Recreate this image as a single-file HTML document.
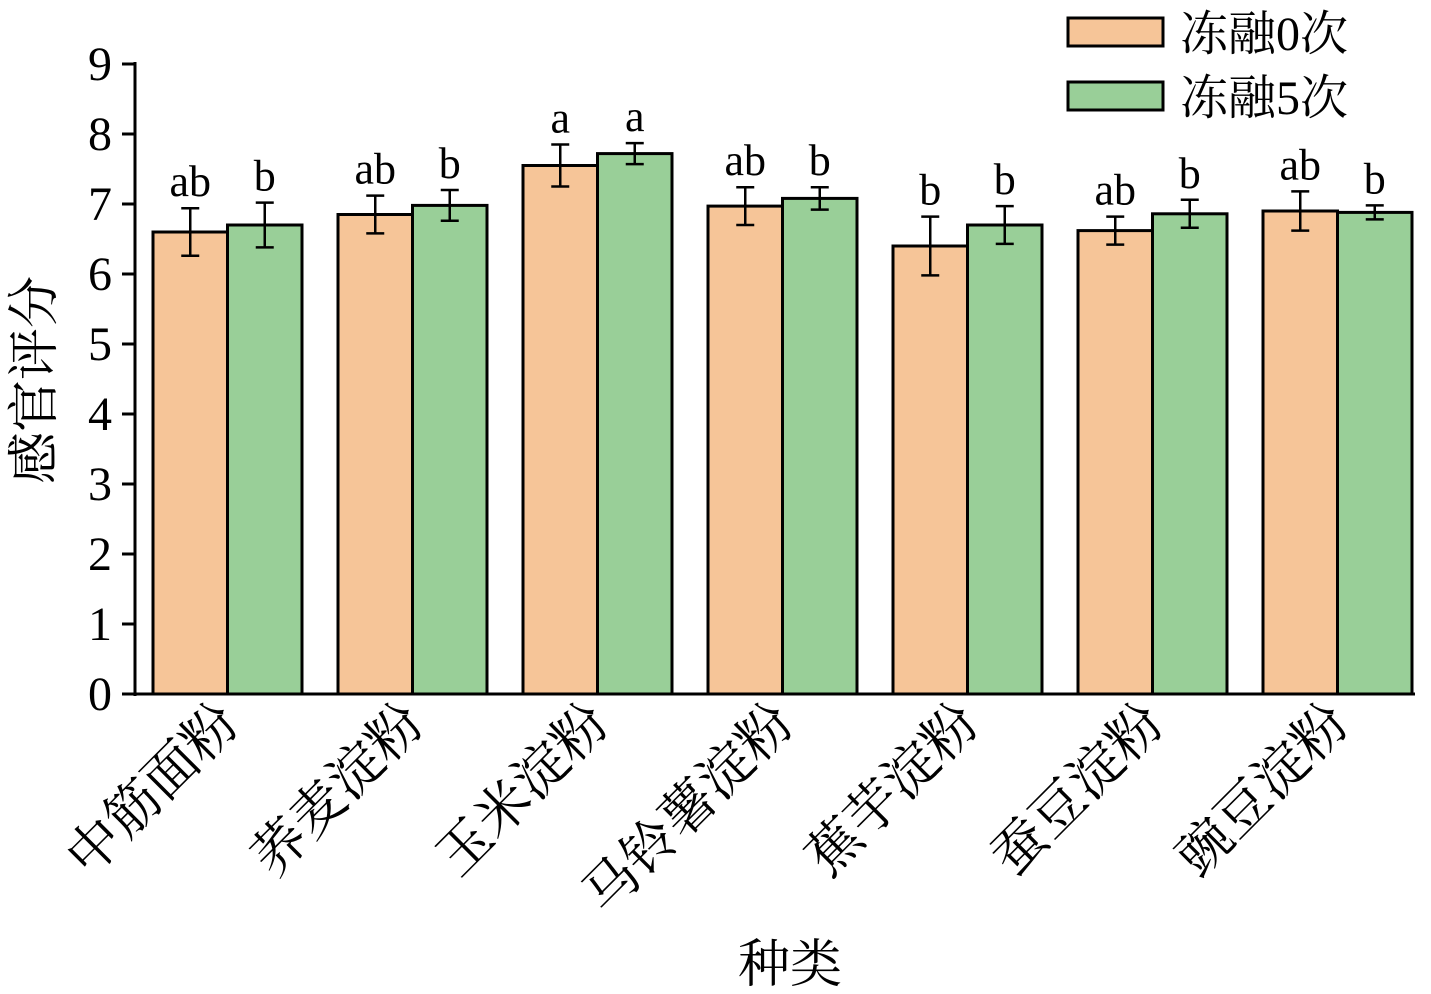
<!DOCTYPE html>
<html><head><meta charset="utf-8"><style>
body{margin:0;background:#fff}
text{font-family:"Liberation Serif","Noto Serif CJK SC",serif;fill:#000}
</style></head><body>
<svg width="1431" height="989" viewBox="0 0 1431 989" xmlns="http://www.w3.org/2000/svg">
<script>
const svg=document.querySelector('svg');
const ns='http://www.w3.org/2000/svg';
function el(t,a,txt){const e=document.createElementNS(ns,t);for(const k in a)e.setAttribute(k,a[k]);if(txt!==undefined)e.textContent=txt;svg.appendChild(e);return e;}
const Y=v=>694-70*v;
const o=[6.6,6.85,7.55,6.97,6.4,6.62,6.9], oe=[0.34,0.27,0.3,0.27,0.42,0.2,0.28];
const g=[6.7,6.98,7.72,7.08,6.7,6.86,6.88], ge=[0.32,0.22,0.15,0.16,0.27,0.2,0.1];
const lo=['ab','ab','a','ab','b','ab','ab'], lg=['b','b','a','b','b','b','b'];
const names=['中筋面粉','荞麦淀粉','玉米淀粉','马铃薯淀粉','蕉芋淀粉','蚕豆淀粉','豌豆淀粉'];
const bw=74.5;
for(let i=0;i<7;i++){
 const x0=153+185*i;
 [[o[i],oe[i],lo[i],x0,'#f6c598'],[g[i],ge[i],lg[i],x0+bw,'#99cf98']].forEach(([v,e,l,x,c])=>{
  el('rect',{x:x,y:Y(v),width:bw,height:694-Y(v),fill:c,stroke:'#000','stroke-width':3});
  const cx=x+bw/2;
  el('line',{x1:cx,x2:cx,y1:Y(v+e),y2:Y(v-e),stroke:'#000','stroke-width':2.5});
  el('line',{x1:cx-9,x2:cx+9,y1:Y(v+e),y2:Y(v+e),stroke:'#000','stroke-width':2.5});
  el('line',{x1:cx-9,x2:cx+9,y1:Y(v-e),y2:Y(v-e),stroke:'#000','stroke-width':2.5});
  el('text',{x:cx,y:Y(v+e)-12,'font-size':44,'text-anchor':'middle'},l);
 });
 const cx=x0+bw+14;
 el('text',{x:cx,y:726,'font-size':54,'text-anchor':'end',transform:`rotate(-45 ${cx} 726)`},names[i]);
}
el('line',{x1:135,x2:135,y1:62,y2:696,stroke:'#000','stroke-width':3});
el('line',{x1:134,x2:1415,y1:694,y2:694,stroke:'#000','stroke-width':3});
for(let v=0;v<=9;v++){
 el('line',{x1:122,x2:135,y1:Y(v),y2:Y(v),stroke:'#000','stroke-width':3});
 el('text',{x:112,y:Y(v)+16,'font-size':48,'text-anchor':'end'},v);
}
el('text',{x:52,y:380,'font-size':52,'text-anchor':'middle',transform:'rotate(-90 52 380)'},'感官评分');
el('text',{x:790,y:982,'font-size':52,'text-anchor':'middle'},'种类');
el('rect',{x:1068,y:18,width:95,height:28,fill:'#f6c598',stroke:'#000','stroke-width':3});
el('rect',{x:1068,y:82,width:95,height:28,fill:'#99cf98',stroke:'#000','stroke-width':3});
el('text',{x:1180,y:50,'font-size':48},'冻融0次');
el('text',{x:1180,y:114,'font-size':48},'冻融5次');
</script>
</svg>
</body></html>
